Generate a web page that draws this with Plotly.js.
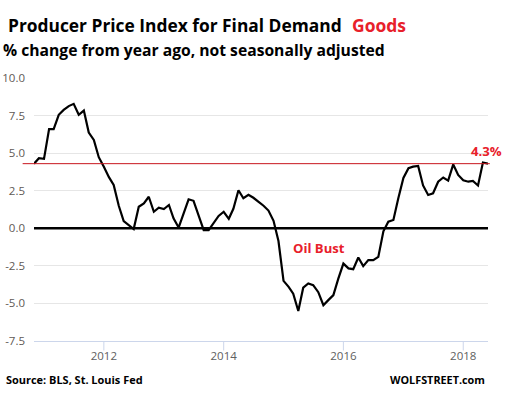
<!DOCTYPE html>
<html>
<head>
<meta charset="utf-8">
<script src="https://cdn.plot.ly/plotly-3.0.1.min.js"></script>
<style>
html,body{margin:0;padding:0;background:#fff;}
#chart{width:506px;height:395px;}
</style>
</head>
<body>
<div id="chart"></div>
<script>
// Monthly data, Nov 2010 .. Jun 2018 (% change from year ago)
const startYear = 2010, startMonth = 11;
const values = [
  4.30, 4.66, 4.62, 6.60, 6.60, 7.55, 7.88, 8.13, 8.28, 7.55, 7.83, 6.37,
  5.88, 4.73, 4.10, 3.40, 2.88, 1.50, 0.48, 0.18, -0.05, 1.43, 1.66, 2.10,
  1.10, 1.37, 1.28, 1.55, 0.66, 0.05, 1.00, 1.93, 1.83, 0.90, -0.12, -0.12,
  0.40, 0.82, 1.10, 0.63, 1.30, 2.53, 2.00, 2.23, 2.03, 1.78, 1.50, 1.18,
  0.50, -0.85, -3.50, -3.90, -4.35, -5.50, -3.95, -3.67, -3.78, -4.25, -5.12, -4.78,
  -4.45, -3.35, -2.35, -2.67, -2.72, -1.94, -2.52, -2.12, -2.12, -1.90, -0.20, 0.44,
  0.55, 2.00, 3.35, 4.00, 4.10, 4.15, 2.85, 2.22, 2.33, 3.10, 3.38, 3.17,
  4.25, 3.55, 3.20, 3.10, 3.15, 2.85, 4.38, 4.30
];
const dates = values.map((v, i) => {
  const m0 = startMonth - 1 + i;
  const y = startYear + Math.floor(m0 / 12);
  const m = (m0 % 12) + 1;
  return y + '-' + String(m).padStart(2, '0') + '-01';
});
const xTickVals = ['2012-01-01', '2014-01-01', '2016-01-01', '2018-01-01'];
const xTickText = ['2012', '2014', '2016', '2018'];
const yTickVals = [-7.5, -5, -2.5, 0, 2.5, 5, 7.5, 10];
const yTickText = ['-7.5', '-5.0', '-2.5', '0.0', '2.5', '5.0', '7.5', '10.0'];
const refValue = 4.3;
const refLabel = '4.3%';

const FAMILY = 'Open Sans';
const W = 506, H = 395;
const M = {l: 34, r: 18, t: 78, b: 54};
const PW = W - M.l - M.r, PH = H - M.t - M.b;

// size a bold text so that its width matches the reference width
const cv = document.createElement('canvas').getContext('2d');
function fitSize(text, target) {
  const base = 20;
  cv.font = 'bold ' + base + 'px "' + FAMILY + '"';
  const w = cv.measureText(text).width;
  return w > 0 ? base * target / w : 16;
}
function label(text, left, cy, width, color, anchor) {
  const size = fitSize(text, width);
  const px = anchor === 'right' ? left : left;
  return {
    xref: 'paper', yref: 'paper',
    x: (px - M.l) / PW, y: (H - M.b - cy) / PH,
    xanchor: anchor || 'left', yanchor: 'middle',
    text: '<b>' + text + '</b>', showarrow: false,
    borderpad: 0, borderwidth: 0,
    font: {family: FAMILY + ', sans-serif', size: size, color: color}
  };
}

const trace = {
  x: dates, y: values, type: 'scatter', mode: 'lines',
  line: {color: '#000000', width: 2.2}, hoverinfo: 'skip'
};

const red = '#e8202a';
const tickShapes = xTickVals.map(d => ({
  type: 'line', xref: 'x', yref: 'paper', x0: d, x1: d, y0: 0, y1: -0.036,
  line: {color: '#ccd6eb', width: 1}
}));

const layout = {
  width: W, height: H,
  margin: M,
  paper_bgcolor: '#ffffff', plot_bgcolor: '#ffffff',
  showlegend: false,
  font: {family: FAMILY + ', sans-serif'},
  xaxis: {
    type: 'date', range: ['2010-11-01', '2018-06-01'],
    tickvals: xTickVals, ticktext: xTickText,
    showgrid: false, zeroline: false,
    showline: true, linecolor: '#ccd6eb', linewidth: 1,
    ticks: 'outside', ticklen: 4, tickcolor: 'rgba(0,0,0,0)', tickwidth: 1,
    tickfont: {family: FAMILY + ', sans-serif', size: 11.5, color: '#606060'},
    fixedrange: true
  },
  yaxis: {
    range: [-7.5, 10], tickvals: yTickVals, ticktext: yTickText,
    showgrid: true, gridcolor: '#e6e6e6', gridwidth: 1,
    zeroline: false, showline: false, ticks: '',
    ticklabelstandoff: 8,
    tickfont: {family: FAMILY + ', sans-serif', size: 11.5, color: '#5f5a55'},
    fixedrange: true
  },
  shapes: [
    {type: 'line', xref: 'paper', yref: 'y', x0: 0, x1: 1, y0: 0, y1: 0,
     line: {color: '#000000', width: 2.5}},
    {type: 'line', xref: 'paper', yref: 'y', x0: -0.025, x1: 1.004, y0: refValue, y1: refValue,
     line: {color: '#c8161e', width: 1}}
  ].concat(tickShapes),
  annotations: [
    label('Producer Price Index for Final Demand', 8, 25, 334, '#000000'),
    label('Goods', 352, 25, 54, red),
    label('% change from year ago, not seasonally adjusted', 3, 50, 382, '#000000'),
    label('Oil Bust', 292.5, 247.7, 51.5, red),
    label(refLabel, 471, 150.7, 30.7, red),
    label('Source: BLS, St. Louis Fed', 6, 379.3, 136.7, '#000000'),
    label('WOLFSTREET.com', 484.5, 379.3, 95, '#000000', 'right')
  ]
};

Plotly.newPlot('chart', [trace], layout, {displayModeBar: false, staticPlot: true});
</script>
</body>
</html>
